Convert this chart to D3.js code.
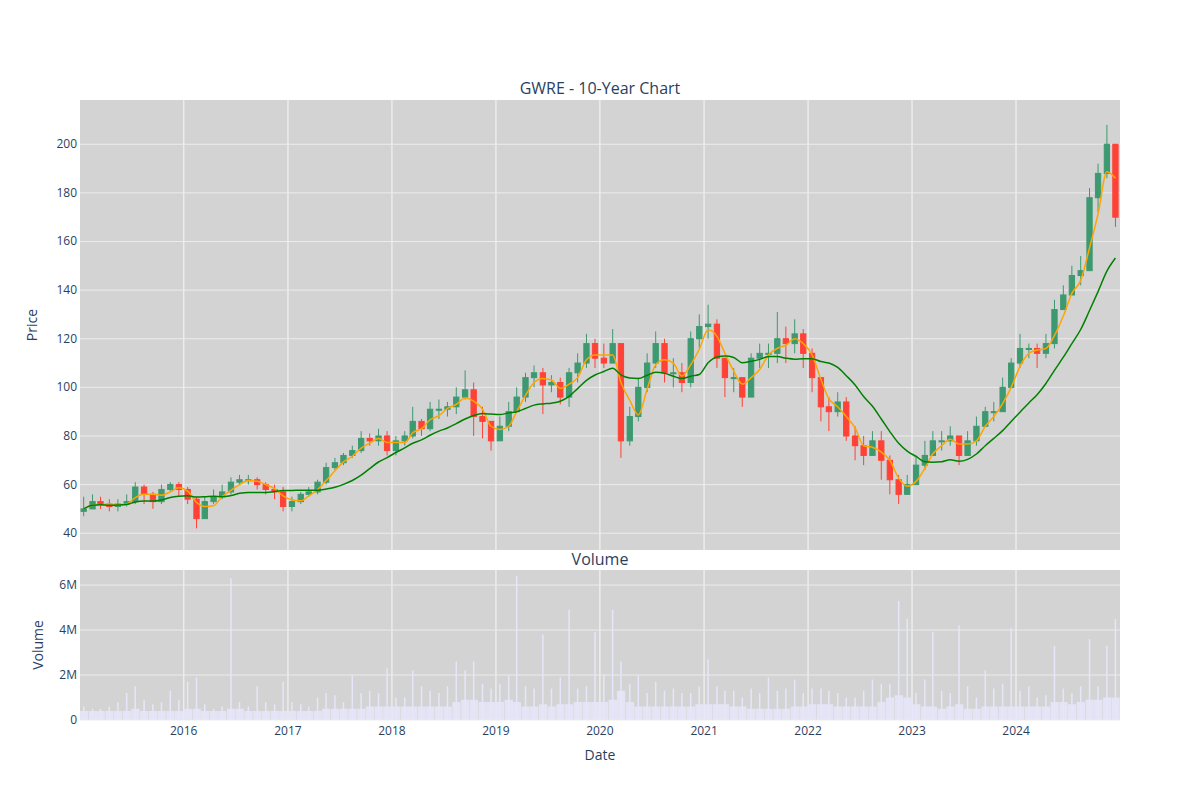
<!DOCTYPE html>
<html><head><meta charset="utf-8">
<script src="https://cdn.jsdelivr.net/npm/d3@7.9.0/dist/d3.min.js"></script>
<style>body{margin:0;background:#fff;font-family:"Open Sans",sans-serif}</style>
</head><body><svg width="1200" height="800"></svg>
<script>
// monthly values, Jan 2015 .. Dec 2024
const closes = [50,53,52,51,52,53,59,56,53,58,60,58, 54,46,53,55,57,61,62,62,60,58,57,51,
  53,56,57,61,67,69,72,74,79,78,80,74, 78,80,86,83,91,91,92,96,99,88,86,78,
  84,90,96,104,106,101,102,96,106,110,118,112, 110,118,78,88,100,110,118,106,106,102,120,125,
  126,112,104,104,96,112,114,114,120,118,122,114, 104,92,90,94,80,76,72,78,70,62,56,60,
  68,72,78,78,80,72,78,84,90,90,100,110, 116,116,114,118,132,138,146,148,178,188,200,170];
const highs = [55,56,55,54,54,56,61,60,57,60,61,61, 59,55,55,58,60,63,64,64,63,61,60,59,
  55,57,59,62,69,71,73,76,82,81,83,82, 80,82,92,87,94,95,94,100,107,102,92,86,
  88,94,100,106,109,108,105,104,108,114,122,120, 118,124,114,92,104,114,123,120,112,110,123,130,
  134,128,112,108,104,114,118,118,131,125,128,124, 116,100,96,98,96,84,80,82,82,72,64,64,
  72,78,82,82,84,80,82,88,92,94,104,112, 122,118,118,122,136,142,150,154,182,192,208,200];
const lows = [47,50,50,49,49,51,52,52,50,52,57,55, 52,42,46,52,54,56,60,60,58,56,54,49,
  49,52,55,56,60,66,68,71,73,76,76,72, 72,76,79,80,82,87,88,89,95,80,79,74,
  78,82,90,94,100,89,98,93,92,102,108,108, 108,110,71,76,86,98,108,102,100,98,100,116,
  120,108,96,98,92,100,108,108,110,110,114,108, 98,86,82,88,78,70,68,72,62,56,52,56,
  60,66,72,74,76,68,72,76,84,86,90,100, 108,112,108,112,116,132,138,142,148,172,186,166];
// average and peak daily volume per month, millions
const volAvg = [0.4,0.4,0.4,0.4,0.4,0.4,0.5,0.4,0.4,0.4,0.4,0.4, 0.5,0.5,0.4,0.4,0.4,0.5,0.5,0.4,0.4,0.4,0.4,0.4,
  0.4,0.4,0.4,0.4,0.5,0.5,0.5,0.5,0.5,0.6,0.6,0.6, 0.6,0.6,0.6,0.6,0.6,0.6,0.6,0.8,0.9,0.9,0.8,0.8,
  0.8,0.9,0.8,0.6,0.6,0.7,0.6,0.7,0.7,0.8,0.8,0.8, 0.8,0.9,1.3,0.8,0.6,0.6,0.6,0.6,0.6,0.6,0.6,0.7,
  0.7,0.7,0.7,0.6,0.6,0.5,0.5,0.5,0.5,0.5,0.6,0.6, 0.7,0.7,0.7,0.6,0.6,0.6,0.6,0.6,0.8,1.0,1.1,1.0,
  0.7,0.6,0.6,0.5,0.6,0.7,0.5,0.5,0.6,0.6,0.6,0.6, 0.6,0.6,0.6,0.6,0.8,0.8,0.7,0.8,0.9,0.9,1.0,1.0];
const volPeak = [0.6,0.5,0.5,0.6,0.8,1.2,1.5,0.9,0.7,0.8,1.3,0.9, 1.7,1.9,0.7,0.5,0.6,6.3,0.8,0.6,1.5,0.8,0.7,1.7,
  0.8,0.7,0.6,1.0,1.2,1.1,0.8,2.0,1.2,1.3,1.2,2.3, 1.0,1.0,2.2,1.5,1.3,1.2,1.5,2.6,2.2,2.6,1.6,1.4,
  1.6,2.0,6.4,1.5,1.4,3.8,1.4,1.9,4.9,1.4,1.5,3.9, 2.0,4.9,2.6,1.6,2.0,1.2,1.7,1.3,1.4,1.2,1.2,1.5,
  2.7,1.5,1.3,1.3,1.0,1.4,1.2,1.9,1.3,1.4,1.8,1.2, 1.4,1.4,1.3,1.2,1.0,1.0,1.3,1.8,1.6,1.6,5.3,4.5,
  1.2,1.8,3.9,1.3,1.2,4.2,1.5,1.0,2.2,1.4,1.6,4.1, 1.3,1.5,1.0,1.1,3.3,1.4,1.2,1.5,3.6,1.5,3.3,4.5];
const yearTicks = [2016,2017,2018,2019,2020,2021,2022,2023,2024];
const priceTicks = [40,60,80,100,120,140,160,180,200];
const volTicks = [0,2,4,6];

const months = closes.map((c,i)=>new Date(2015, i, 1));
const data = months.map((d,i)=>({d, mid:new Date(2015,i,15), o:i?closes[i-1]:49, c:closes[i], h:highs[i], l:lows[i], v:volAvg[i], vp:volPeak[i]}));
function ma(n){return closes.map((_,i)=>{const s=closes.slice(Math.max(0,i-n+1),i+1);return d3.mean(s);});}
const ma50 = ma(3), ma200 = ma(10);

const svg = d3.select('svg');
const L=80,R=1120,T1=100,B1=550,T2=570,B2=720;
const x = d3.scaleTime().domain([new Date(2015,0,2), new Date(2024,11,31)]).range([L,R]);
const y = d3.scaleLinear().domain([33.1,218.2]).range([B1,T1]);
const yv = d3.scaleLinear().domain([0,6.67]).range([B2,T2]);
const ink='#2a3f5f';

svg.append('rect').attr('x',L).attr('y',T1).attr('width',R-L).attr('height',B1-T1).attr('fill','#d3d3d3');
svg.append('rect').attr('x',L).attr('y',T2).attr('width',R-L).attr('height',B2-T2).attr('fill','#d3d3d3');
const yr = yearTicks.map(t=>new Date(t,0,1));
[[T1,B1],[T2,B2]].forEach(([a,b])=>svg.append('g').selectAll('line').data(yr).join('line')
  .attr('x1',d=>x(d)).attr('x2',d=>x(d)).attr('y1',a).attr('y2',b).attr('stroke','#ececec').attr('stroke-width',1.5));
svg.append('g').selectAll('line').data(priceTicks).join('line').attr('x1',L).attr('x2',R)
  .attr('y1',d=>y(d)).attr('y2',d=>y(d)).attr('stroke','#ececec');
svg.append('g').selectAll('line').data(volTicks).join('line').attr('x1',L).attr('x2',R)
  .attr('y1',d=>yv(d)).attr('y2',d=>yv(d)).attr('stroke','#ececec');

// candles
const cw = x(new Date(2015,1,1))-x(new Date(2015,0,1));
const cg = svg.append('g').selectAll('g').data(data).join('g')
  .attr('stroke',d=>d.c>=d.o?'#3d9970':'#ff4136').attr('fill',d=>d.c>=d.o?'#3d9970':'#ff4136');
cg.append('line').attr('x1',d=>x(d.mid)).attr('x2',d=>x(d.mid)).attr('y1',d=>y(d.h)).attr('y2',d=>y(d.l));
cg.append('rect').attr('x',d=>x(d.mid)-cw*0.3).attr('width',cw*0.6)
  .attr('y',d=>y(Math.max(d.o,d.c))).attr('height',d=>Math.max(1,Math.abs(y(d.o)-y(d.c))));

const line = d3.line().x((d,i)=>x(data[i].mid)).y(d=>y(d)).curve(d3.curveMonotoneX);
svg.append('path').attr('d',line(ma50)).attr('fill','none').attr('stroke','orange').attr('stroke-width',1.5);
svg.append('path').attr('d',line(ma200)).attr('fill','none').attr('stroke','green').attr('stroke-width',1.5);

// volume
svg.append('g').selectAll('rect').data(data).join('rect').attr('x',d=>x(d.d)).attr('width',cw-0.5)
  .attr('y',d=>yv(d.v)).attr('height',d=>B2-yv(d.v)).attr('fill','#e6e6fa').attr('opacity',0.85);
svg.append('g').selectAll('line').data(data).join('line').attr('x1',d=>x(d.mid)).attr('x2',d=>x(d.mid))
  .attr('y1',d=>yv(d.vp)).attr('y2',B2).attr('stroke','#e6e6fa').attr('stroke-width',1.5);

// labels
const tx = (s,xx,yy,o={})=>svg.append('text').text(s).attr('x',xx).attr('y',yy).attr('fill',ink)
  .attr('font-size',o.fs||12).attr('text-anchor',o.a||'middle').attr('transform',o.r?`rotate(-90,${xx},${yy})`:null);
priceTicks.forEach(t=>tx(t,L-3,y(t)+4,{a:'end'}));
volTicks.forEach(t=>tx(t?t+'M':'0',L-3,yv(t)+4,{a:'end'}));
yearTicks.forEach((t,i)=>tx(t,x(yr[i]),735));
tx('GWRE - 10-Year Chart',600,94,{fs:16});
tx('Volume',600,565,{fs:16});
tx('Price',37,325,{fs:14,r:true});
tx('Volume',43,645,{fs:14,r:true});
tx('Date',600,760,{fs:14});
</script></body></html>
